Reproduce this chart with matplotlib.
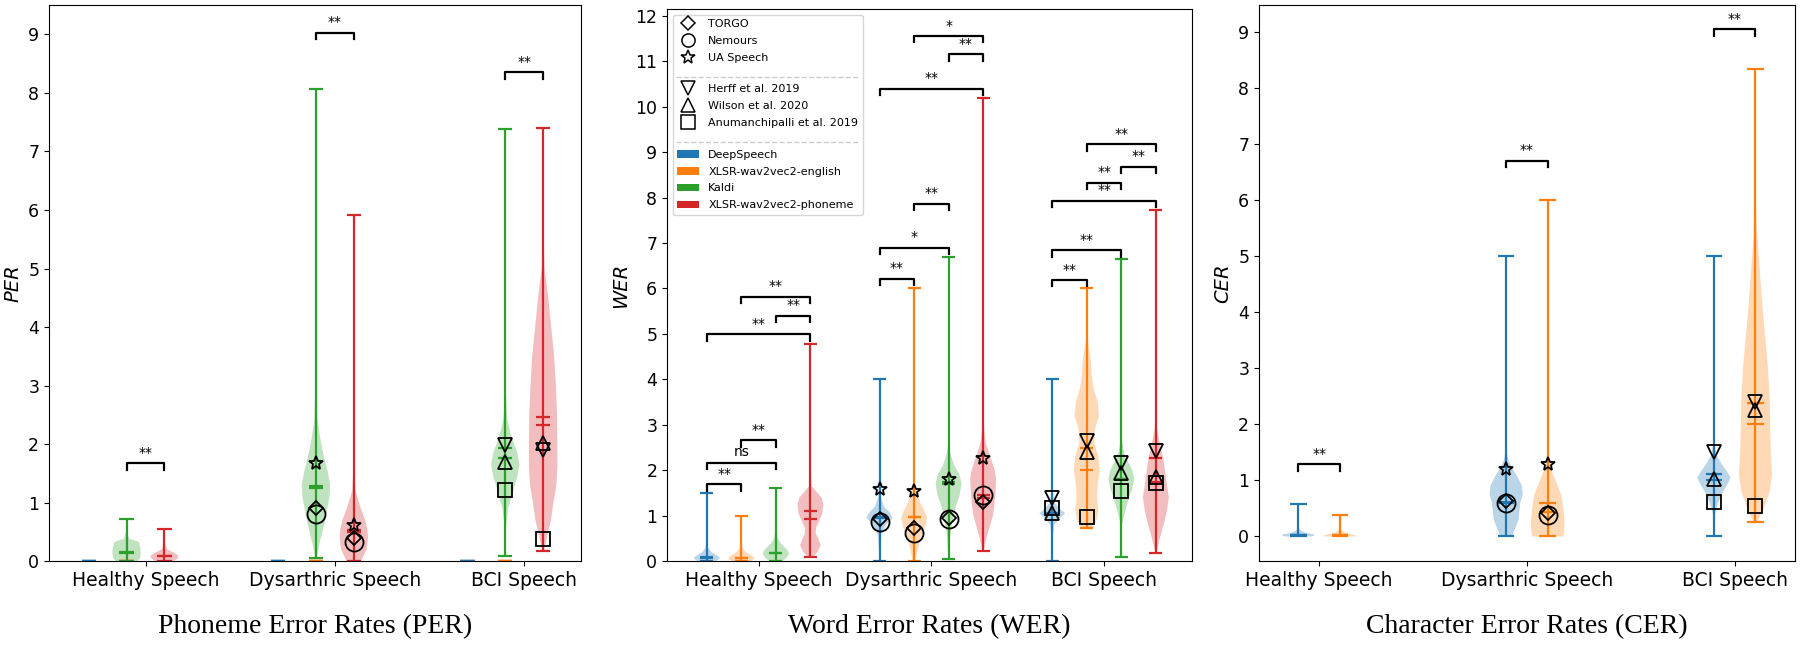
import matplotlib
matplotlib.use('Agg')
import matplotlib.pyplot as plt
from matplotlib.lines import Line2D
from matplotlib.patches import Patch

# ---- shared labels ----
groups = ['Healthy Speech', 'Dysarthric Speech', 'BCI Speech']
models = ['DeepSpeech', 'XLSR-wav2vec2-english', 'Kaldi', 'XLSR-wav2vec2-phoneme']
model_colors = ['#1f77b4', '#ff7f0e', '#2ca02c', '#d62728']
dys_sets = ['TORGO', 'Nemours', 'UA Speech']
bci_sets = ['Herff et al. 2019', 'Wilson et al. 2020', 'Anumanchipalli et al. 2019']
dys_markers = ['D', 'o', '*']
bci_markers = ['v', '^', 's']
marker_size = {'D': 7.5, 'o': 13, '*': 10.5, 'v': 10.5, '^': 10.5, 's': 9.5}
legend_marker_size = {'D': 6.8, 'o': 9.5, '*': 10, 'v': 9.5, '^': 9.5, 's': 9.5}

# ---- PER (DeepSpeech / XLSR-english have no phoneme output -> flat at 0) ----
per_models = [0, 1, 2, 3]
per_offsets = [-0.3, -0.1, -0.1, 0.1]
per_min = [[0, 0, 0, 0], [0, 0, 0.05, 0], [0, 0, 0.09, 0.17]]
per_max = [[0, 0, 0.72, 0.55], [0, 0, 8.07, 5.92], [0, 0, 7.38, 7.40]]
per_mean = [[0, 0, 0.15, 0.09], [0, 0, 1.28, 0.53], [0, 0, 1.93, 2.47]]
per_median = [[0, 0, 0.14, 0.08], [0, 0, 1.25, 0.50], [0, 0, 1.76, 2.33]]
per_dens_y = [
    [[0], [0], [0, 0.05, 0.15, 0.25, 0.33, 0.38, 0.5, 0.72], [0, 0.04, 0.09, 0.14, 0.2, 0.3, 0.55]],
    [[0], [0], [0.05, 0.3, 0.6, 0.9, 1.1, 1.3, 1.5, 1.8, 2.1, 2.4, 3.0, 4.0, 8.07],
     [0, 0.2, 0.4, 0.55, 0.7, 0.9, 1.05, 1.2, 1.5, 2.0, 5.92]],
    [[0], [0], [0.09, 0.6, 0.9, 1.2, 1.45, 1.65, 1.85, 2.05, 2.25, 2.45, 3.0, 7.38],
     [0.17, 0.4, 0.7, 1.0, 1.3, 1.6, 2.0, 2.5, 3.0, 3.5, 4.0, 4.5, 5.0, 5.5, 7.4]],
]
per_dens_w = [
    [[0], [0], [0.75, 0.95, 1.0, 0.95, 0.85, 0.2, 0.04, 0.01], [0.6, 0.9, 1.0, 0.7, 0.2, 0.04, 0.01]],
    [[0], [0], [0.05, 0.25, 0.55, 0.8, 0.95, 1.0, 0.85, 0.55, 0.3, 0.12, 0.04, 0.02, 0.0],
     [0.5, 0.9, 1.0, 0.95, 0.8, 0.5, 0.3, 0.12, 0.04, 0.01, 0.0]],
    [[0], [0], [0.01, 0.05, 0.2, 0.55, 0.85, 1.0, 0.85, 0.55, 0.3, 0.12, 0.03, 0.0],
     [0.05, 0.24, 0.53, 0.7, 0.9, 0.97, 0.97, 0.95, 0.87, 0.75, 0.55, 0.35, 0.1, 0.03, 0.0]],
]
per_dys_marks = [[None, None, 0.90, 0.40], [None, None, 0.81, 0.33], [None, None, 1.68, 0.62]]
per_bci_marks = [[None, None, 1.98, 1.90], [None, None, 1.70, 2.02], [None, None, 1.22, 0.38]]
per_brackets = [(0, 2, 3, 1.67, '**'), (1, 2, 3, 9.03, '**'), (2, 2, 3, 8.35, '**')]

# ---- WER ----
wer_models = [0, 1, 2, 3]
wer_offsets = [-0.3, -0.1, 0.1, 0.3]
wer_min = [[0, 0, 0, 0.10], [0, 0, 0.04, 0.22], [0, 0.72, 0.10, 0.19]]
wer_max = [[1.50, 1.00, 1.61, 4.77], [4.00, 6.00, 6.70, 10.20], [4.00, 6.00, 6.65, 7.72]]
wer_mean = [[0.09, 0.08, 0.19, 1.10], [0.97, 0.98, 1.75, 1.45], [1.05, 2.50, 1.80, 2.28]]
wer_median = [[0.08, 0.07, 0.18, 0.92], [0.95, 0.97, 1.70, 1.40], [1.05, 2.00, 1.80, 1.75]]
wer_dens_y = [
    [[0, 0.04, 0.08, 0.12, 0.2, 0.3, 0.5, 1.5],
     [0, 0.04, 0.08, 0.12, 0.2, 0.3, 0.5, 1.0],
     [0, 0.08, 0.15, 0.22, 0.3, 0.4, 0.5, 0.7, 1.61],
     [0.1, 0.2, 0.35, 0.5, 0.62, 0.75, 0.9, 1.05, 1.25, 1.4, 1.55, 1.65, 2.0, 4.77]],
    [[0, 0.3, 0.6, 0.8, 0.95, 1.05, 1.2, 1.4, 1.7, 4.0],
     [0, 0.2, 0.5, 0.75, 0.95, 1.1, 1.3, 1.5, 1.7, 2.0, 6.0],
     [0.04, 0.5, 0.8, 1.0, 1.2, 1.45, 1.7, 1.9, 2.1, 2.35, 2.6, 6.7],
     [0.22, 0.5, 0.8, 1.0, 1.2, 1.5, 1.8, 2.0, 2.3, 2.6, 3.0, 10.2]],
    [[0, 0.5, 0.8, 0.95, 1.05, 1.15, 1.3, 1.6, 4.0],
     [0.72, 0.9, 1.1, 1.4, 1.7, 2.0, 2.3, 2.6, 2.9, 3.2, 3.5, 3.8, 4.1, 4.4, 4.7, 5.0, 6.0],
     [0.1, 0.8, 1.1, 1.4, 1.6, 1.8, 2.0, 2.2, 2.4, 2.7, 6.65],
     [0.19, 0.5, 0.8, 1.1, 1.4, 1.7, 2.0, 2.3, 2.6, 2.9, 3.2, 7.72]],
]
wer_dens_w = [
    [[0.7, 0.95, 1.0, 0.8, 0.35, 0.1, 0.03, 0.0],
     [0.7, 0.95, 1.0, 0.8, 0.35, 0.1, 0.03, 0.0],
     [0.5, 0.85, 1.0, 0.95, 0.7, 0.35, 0.15, 0.04, 0.0],
     [0.2, 0.55, 0.8, 0.6, 0.4, 0.45, 0.7, 0.92, 1.0, 0.85, 0.4, 0.1, 0.02, 0.0]],
    [[0.02, 0.05, 0.15, 0.5, 1.0, 0.85, 0.35, 0.1, 0.02, 0.0],
     [0.1, 0.25, 0.5, 0.85, 1.0, 0.8, 0.45, 0.2, 0.08, 0.02, 0.0],
     [0.02, 0.1, 0.25, 0.4, 0.55, 0.85, 1.0, 0.85, 0.45, 0.15, 0.03, 0.0],
     [0.05, 0.25, 0.55, 0.75, 0.85, 0.95, 1.0, 0.9, 0.55, 0.2, 0.05, 0.0]],
    [[0.01, 0.03, 0.15, 0.6, 1.0, 0.6, 0.15, 0.03, 0.0],
     [0.4, 0.7, 0.85, 0.75, 0.8, 0.95, 0.85, 0.55, 0.6, 0.9, 0.8, 0.5, 0.35, 0.3, 0.15, 0.04, 0.0],
     [0.01, 0.05, 0.3, 0.6, 0.85, 1.0, 0.85, 0.5, 0.2, 0.03, 0.0],
     [0.05, 0.3, 0.6, 0.85, 1.0, 0.85, 0.7, 0.55, 0.3, 0.1, 0.02, 0.0]],
]
wer_dys_marks = [[0.93, 0.72, 0.95, 1.30], [0.87, 0.62, 0.93, 1.46], [1.58, 1.55, 1.80, 2.28]]
wer_bci_marks = [[1.39, 2.64, 2.15, 2.42], [1.06, 2.41, 1.93, 1.86], [1.17, 0.97, 1.55, 1.72]]
wer_brackets = [
    (0, 0, 1, 1.70, '**'), (0, 0, 2, 2.17, 'ns'), (0, 1, 2, 2.66, '**'),
    (0, 0, 3, 5.00, '**'), (0, 2, 3, 5.40, '**'), (0, 1, 3, 5.82, '**'),
    (1, 0, 1, 6.22, '**'), (1, 0, 2, 6.90, '*'), (1, 1, 2, 7.87, '**'),
    (1, 0, 3, 10.40, '**'), (1, 2, 3, 11.16, '**'), (1, 1, 3, 11.56, '*'),
    (2, 0, 1, 6.19, '**'), (2, 0, 2, 6.84, '**'), (2, 0, 3, 7.93, '**'),
    (2, 1, 2, 8.33, '**'), (2, 2, 3, 8.68, '**'), (2, 1, 3, 9.18, '**'),
]

# ---- CER (only DeepSpeech and XLSR-english) ----
cer_models = [0, 1]
cer_offsets = [-0.1, 0.1]
cer_min = [[0, 0], [0, 0], [0, 0.25]]
cer_max = [[0.58, 0.38], [5.0, 6.0], [5.0, 8.33]]
cer_mean = [[0.03, 0.02], [0.62, 0.60], [1.12, 2.37]]
cer_median = [[0.02, 0.02], [0.60, 0.43], [1.00, 2.00]]
cer_dens_y = [
    [[0, 0.02, 0.04, 0.06, 0.1, 0.15, 0.58], [0, 0.02, 0.04, 0.07, 0.12, 0.38]],
    [[0, 0.15, 0.3, 0.45, 0.6, 0.75, 0.9, 1.05, 1.2, 1.35, 1.5, 5.0],
     [0, 0.15, 0.3, 0.45, 0.6, 0.75, 0.9, 1.05, 1.2, 1.35, 1.5, 6.0]],
    [[0, 0.4, 0.6, 0.8, 0.95, 1.05, 1.15, 1.3, 1.45, 1.7, 5.0],
     [0.25, 0.5, 0.8, 1.1, 1.5, 2.0, 2.5, 3.0, 3.5, 4.0, 4.5, 5.0, 5.5, 6.0, 8.33]],
]
cer_dens_w = [
    [[0.8, 1.0, 0.9, 0.5, 0.15, 0.03, 0.0], [0.9, 1.0, 0.7, 0.3, 0.05, 0.0]],
    [[0.35, 0.55, 0.75, 0.8, 0.85, 1.0, 0.95, 0.7, 0.4, 0.15, 0.03, 0.0],
     [0.95, 1.0, 1.0, 0.95, 0.9, 0.8, 0.6, 0.4, 0.2, 0.07, 0.02, 0.0]],
    [[0.01, 0.05, 0.25, 0.55, 0.85, 1.0, 0.8, 0.45, 0.15, 0.02, 0.0],
     [0.1, 0.5, 0.85, 1.0, 0.92, 0.88, 0.85, 0.75, 0.6, 0.45, 0.32, 0.2, 0.08, 0.02, 0.0]],
]
cer_dys_marks = [[0.63, 0.42], [0.60, 0.38], [1.21, 1.29]]
cer_bci_marks = [[1.51, 2.40], [1.03, 2.26], [0.62, 0.54]]
cer_brackets = [(0, 0, 1, 1.29, '**'), (1, 0, 1, 6.70, '**'), (2, 0, 1, 9.04, '**')]


def draw_panel(ax, mods, offsets, vmin, vmax, vmean, vmed, dy, dw,
               dys_marks, bci_marks, brackets, width, ylim):
    yr = ylim[1] - ylim[0]
    for j, m in enumerate(mods):
        stats = []
        pos = []
        for g in range(len(groups)):
            w = dw[g][j]
            if max(w) == 0:
                coords, vals = [0, 0.0001 * yr], [1, 1]
            else:
                coords, vals = dy[g][j], w
            stats.append(dict(coords=coords, vals=vals, mean=vmean[g][j], median=vmed[g][j],
                              min=vmin[g][j], max=vmax[g][j]))
            pos.append(g + offsets[j])
        parts = ax.violin(stats, positions=pos, widths=width, showmeans=True,
                          showextrema=True, showmedians=True)
        for b in parts['bodies']:
            b.set_facecolor(model_colors[m])
            b.set_edgecolor('none')
            b.set_alpha(0.3)
        for key in ['cbars', 'cmins', 'cmaxes', 'cmeans', 'cmedians']:
            parts[key].set_color(model_colors[m])
            parts[key].set_linewidth(1.6)

    for k, mk in enumerate(dys_markers):
        for j in range(len(mods)):
            v = dys_marks[k][j]
            if v is not None:
                ax.plot(1 + offsets[j], v, marker=mk, ls='none', mfc='none', mec='k',
                        ms=marker_size[mk], mew=1.3, zorder=5)
    for k, mk in enumerate(bci_markers):
        for j in range(len(mods)):
            v = bci_marks[k][j]
            if v is not None:
                ax.plot(2 + offsets[j], v, marker=mk, ls='none', mfc='none', mec='k',
                        ms=marker_size[mk], mew=1.3, zorder=5)

    h = 0.012 * yr
    for g, a, b, y, txt in brackets:
        x1, x2 = g + offsets[a], g + offsets[b]
        ax.plot([x1, x1, x2, x2], [y - h, y, y, y - h], color='k', lw=1.6)
        ax.text((x1 + x2) / 2, y + 0.006 * yr, txt, ha='center', va='bottom', fontsize=10)

    ax.set_ylim(*ylim)
    ax.set_xticks(range(len(groups)))
    ax.set_xticklabels(groups)
    ax.tick_params(axis='x', labelsize=13.5)
    ax.tick_params(axis='y', labelsize=12.5)


fig = plt.figure(figsize=(18, 6.45), dpi=100)
ax1 = fig.add_axes([0.0272, 0.130, 0.2956, 0.862])
ax2 = fig.add_axes([0.3706, 0.130, 0.2917, 0.856])
ax3 = fig.add_axes([0.6994, 0.130, 0.2978, 0.862])

draw_panel(ax1, per_models, per_offsets, per_min, per_max, per_mean, per_median,
           per_dens_y, per_dens_w, per_dys_marks, per_bci_marks, per_brackets, 0.15, (0, 9.5))
ax1.set_xlim(-0.51, 2.30)
ax1.set_yticks(range(0, 10))
ax1.set_ylabel('PER', style='italic', fontsize=14)

draw_panel(ax2, wer_models, wer_offsets, wer_min, wer_max, wer_mean, wer_median,
           wer_dens_y, wer_dens_w, wer_dys_marks, wer_bci_marks, wer_brackets, 0.15, (0, 12.15))
ax2.set_xlim(-0.53, 2.51)
ax2.set_yticks(range(0, 13))
ax2.set_ylabel('WER', style='italic', fontsize=14)

draw_panel(ax3, cer_models, cer_offsets, cer_min, cer_max, cer_mean, cer_median,
           cer_dens_y, cer_dens_w, cer_dys_marks, cer_bci_marks, cer_brackets, 0.16, (-0.44, 9.47))
ax3.set_xlim(-0.29, 2.29)
ax3.set_yticks(range(0, 10))
ax3.set_ylabel('CER', style='italic', fontsize=14)

# titles under each panel
titles = ['Phoneme Error Rates (PER)', 'Word Error Rates (WER)', 'Character Error Rates (CER)']
for ax, t in zip([ax1, ax2, ax3], titles):
    p = ax.get_position()
    fig.text((p.x0 + p.x1) / 2, 0.028, t, ha='center', va='center',
             family='Liberation Serif', fontsize=20)

# legend: dysarthric datasets, separator, BCI datasets, separator, models
handles, labels = [], []
for name, mk in zip(dys_sets, dys_markers):
    handles.append(Line2D([], [], marker=mk, ls='none', mfc='none', mec='k',
                          ms=legend_marker_size[mk], mew=1.1))
    labels.append(name)
handles.append(Line2D([], [], ls='none'))
labels.append(' ')
for name, mk in zip(bci_sets, bci_markers):
    handles.append(Line2D([], [], marker=mk, ls='none', mfc='none', mec='k',
                          ms=legend_marker_size[mk], mew=1.1))
    labels.append(name)
handles.append(Line2D([], [], ls='none'))
labels.append(' ')
for name, c in zip(models, model_colors):
    handles.append(Patch(facecolor=c))
    labels.append(name)

leg = ax2.legend(handles, labels, loc='upper left', fontsize=8, labelspacing=0.62)
sep_idx = [3, 7]
for i in sep_idx:
    leg.get_texts()[i].set_fontsize(1)

fig.canvas.draw()
bb = leg.get_window_extent()
inv = fig.transFigure.inverted()
for i in sep_idx:
    tb = leg.get_texts()[i].get_window_extent()
    ymid = (tb.y0 + tb.y1) / 2
    (x0, y0), (x1, _) = inv.transform([(bb.x0 + 3, ymid), (bb.x1 - 3, ymid)])
    fig.add_artist(Line2D([x0, x1], [y0, y0], transform=fig.transFigure,
                          color='#cccccc', ls='--', lw=1.0, zorder=10))

fig.savefig('out.png', dpi=100)
